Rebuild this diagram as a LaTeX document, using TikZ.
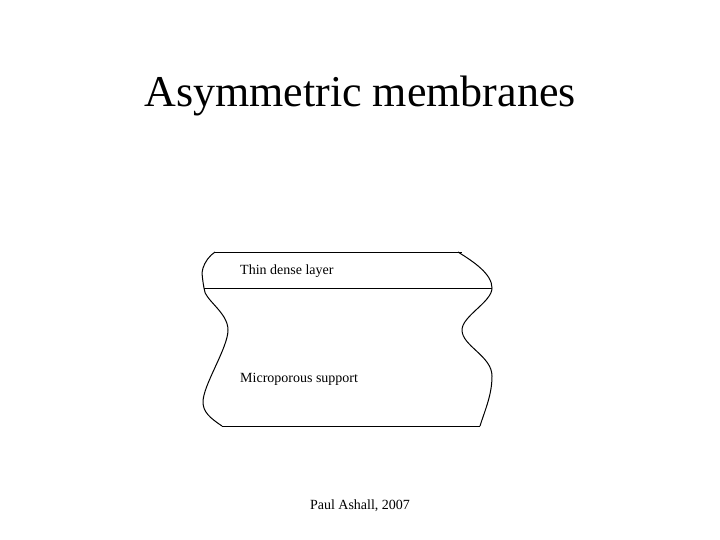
\documentclass[tikz,border=0pt]{standalone}
\usepackage{fontspec}
\setmainfont{Liberation Serif}
\begin{document}
\begin{tikzpicture}[x=1pt,y=-1pt,
  outline/.style={draw=black,line width=1pt,line join=round},
  lbl/.style={font=\fontsize{14}{16}\selectfont,anchor=west,inner sep=0pt}]
\useasboundingbox (0,0) rectangle (720,540);
\node[font=\fontsize{44}{50}\selectfont,inner sep=0pt] (title) at (360,96) {Asymmetric membranes};
% membrane outline
\draw[outline] (215,252) -- (462,252);
\draw[outline] (458,252) .. controls (474,262) and (492,274) .. (492,288)
  .. controls (492,302) and (462,316) .. (462,330)
  .. controls (462,346) and (492,356) .. (492,376)
  .. controls (492,395) and (485,410) .. (480,426);
\draw[outline] (480,426) -- (222,426);
\draw[outline] (222,426) .. controls (210,418) and (203,412) .. (203,402)
  .. controls (203,385) and (228,348) .. (228,330)
  .. controls (228,312) and (204,300) .. (204,288)
  .. controls (203,282) and (201,272) .. (203,268)
  .. controls (205,262) and (209,256) .. (215,252);
\draw[outline] (204,288) -- (492,288);
\node[lbl] (thin) at (240,271) {Thin dense layer};
\node[lbl] (micro) at (240,379) {Microporous support};
\node[font=\fontsize{14}{16}\selectfont,inner sep=0pt] (foot) at (360,506) {Paul Ashall, 2007};
\end{tikzpicture}
\end{document}
